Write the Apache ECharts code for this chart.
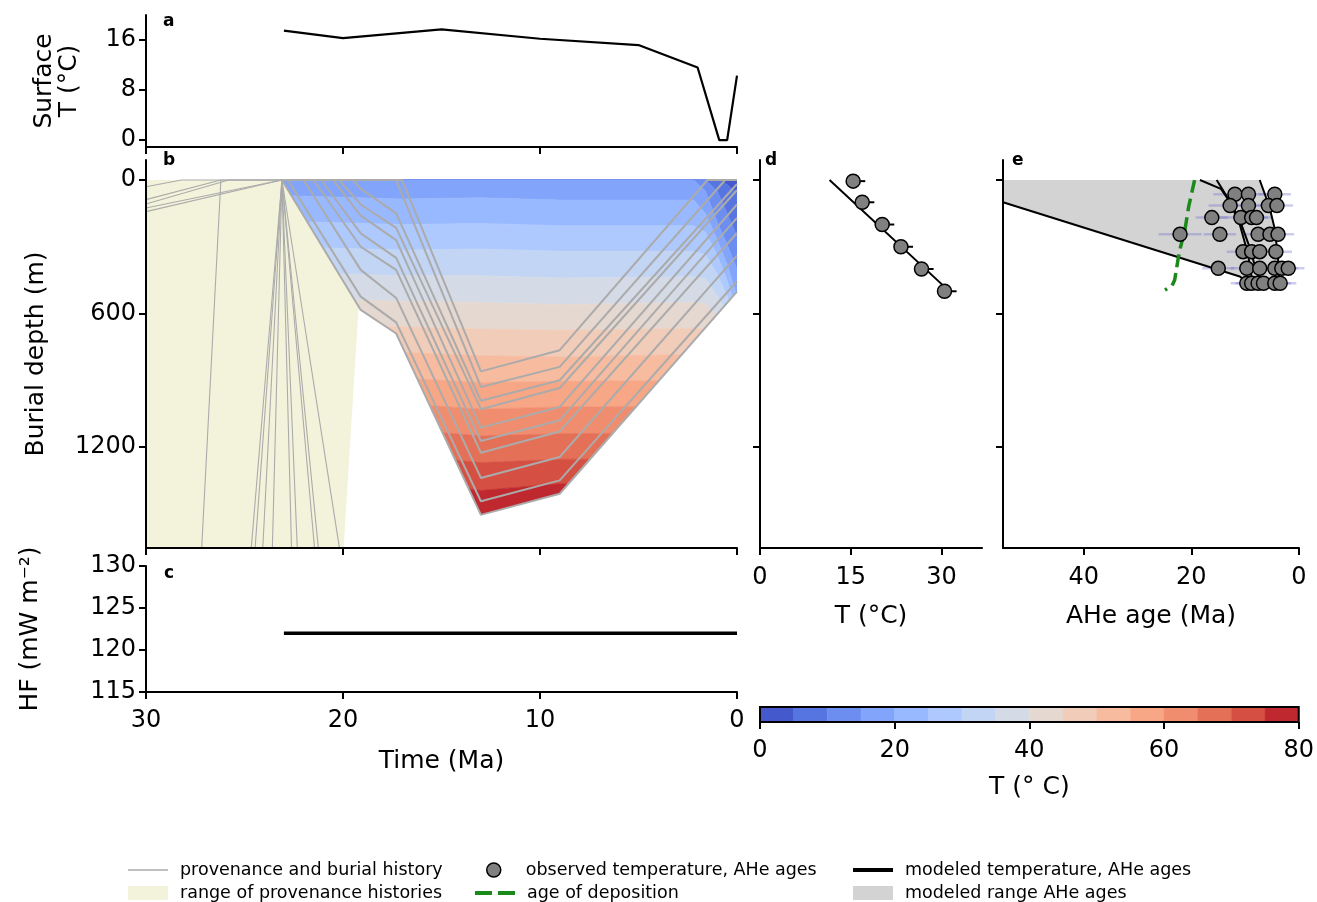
<!DOCTYPE html>
<html lang="en">
<head>
<meta charset="UTF-8">
<title>burial history</title>
<script src="https://cdn.jsdelivr.net/npm/echarts@6.0.0/dist/echarts.min.js"></script>
<style>
    *{margin:0;padding:0}
    html,body{width:100%;height:100%;overflow:hidden;background:#fff}
    #chart{width:1317px;height:902px}
</style>
</head>
<body>
<div id="chart"></div>
<script>
// panel a: surface temperature
const surfTime = [23, 20, 15, 10, 5, 2, 0.9, 0.5, 0];
const surfTemp = [17.5, 16.3, 17.7, 16.2, 15.2, 11.6, 0, 0, 10.3];

// panel c: heat flow
const hfTime = [23, 0];
const hfValue = [122, 122];

// panel b: burial histories of the horizons [time Ma, depth m]
const burialLines = [
    [[23.1,0],[19.1,584],[17.3,690],[13,1505],[9,1410],[0,502]],
    [[23.1,0],[22.8,0],[19.1,524],[17.3,640],[13,1444],[9,1350],[0,455]],
    [[23.1,0],[22.0,0],[19.1,404],[17.3,530],[13,1339],[9,1245],[0,340]],
    [[23.1,0],[21.5,0],[19.1,300],[17.3,404],[13,1226],[9,1130],[0,238]],
    [[23.1,0],[21.1,0],[19.1,240],[17.3,350],[13,1173],[9,1080],[0,170]],
    [[23.1,0],[20.5,0],[19.1,160],[17.3,270],[13,1113],[9,1020],[0,110]],
    [[23.1,0],[20.2,0],[19.1,110],[17.3,215],[13,1030],[9,935],[0,45]],
    [[23.1,0],[19.5,0],[19.1,40],[17.3,150],[13,992],[9,900],[0,18]],
    [[23.1,0],[17.3,0],[13,930],[9,840],[0.6,0],[0,0]],
    [[23.1,0],[17.0,0],[13,860],[9,765],[1.5,0],[0,0]]
];
// provenance histories
const provLines = [
    [[30,142],[23.1,0]],
    [[30,126],[23.1,0]],
    [[30,108],[25.8,0],[23.1,0]],
    [[30,88],[26.2,0],[23.1,0]],
    [[30,30],[28.2,0],[23.1,0]],
    [[27.2,1700],[26.2,0]],
    [[24.7,1700],[23.1,0]],
    [[24.5,1700],[23.1,0]],
    [[24.1,1700],[23.1,0]],
    [[23.6,1700],[23.1,0]],
    [[22.6,1700],[23.1,0]],
    [[22.3,1700],[23.1,0]],
    [[21.4,1700],[23.1,0]],
    [[21.2,1700],[23.1,0]],
    [[20.1,1700],[23.1,0]]
];
const provRange = [[30,0],[23.1,0],[19.2,565],[20.0,1700],[30,1700]];

// isotherm depths (m) at these times, for 5, 10, ... 80 °C
const isoTimes = [23.1, 17, 13, 9, 2.2, 1.6, 1.0, 0.5, 0];
const isotherms = [
    [0,0,0,0,0,0,0,20,60],
    [0,0,0,0,0,0,50,150,250],
    [0,0,0,0,0,50,190,290,400],
    [70,85,80,90,90,150,270,380,520],
    [185,200,195,205,205,235,340,450,600],
    [300,315,310,320,320,335,425,520,680],
    [415,430,430,440,435,445,520,600,760],
    [530,545,550,560,550,555,620,690,840],
    [645,660,670,675,667,670,720,780,920],
    [760,775,790,795,784,790,820,870,1000],
    [875,890,910,905,901,905,930,960,1080],
    [990,1005,1030,1020,1018,1020,1040,1060,1160],
    [1105,1120,1150,1140,1135,1135,1150,1160,1240],
    [1220,1235,1270,1255,1252,1250,1260,1260,1320],
    [1335,1350,1395,1365,1369,1365,1370,1360,1400],
    [1800,1800,1800,1800,1800,1800,1800,1800,1800]
];
const bandLevels = [0,5,10,15,20,25,30,35,40,45,50,55,60,65,70,75,80];
const bandColors = ['#445acc','#5775e1','#6c8ef1','#82a5fb','#98b9ff','#aec9fd','#c2d5f4','#d5dbe6',
    '#e5d8d1','#f1ccb8','#f7bb9f','#f7a686','#f18d6f','#e57058','#d55042','#c0282f'];

// panel d: observed and modeled temperature
const dTemp = [15.4, 16.9, 20.2, 23.3, 26.7, 30.5];
const dTempHi = [17.4, 18.9, 22.2, 25.3, 28.7, 32.5];
const dDepth = [5, 100, 200, 300, 400, 500];
const dModel = [[11.5,0],[31.5,505]];

// panel e: AHe ages
const eAge = [11.9,9.4,4.5, 12.8,9.4,5.7,4.1, 16.2,10.8,8.8,7.9, 22.1,14.7,7.6,5.4,3.9,
    10.4,8.8,7.3,4.3, 15.0,9.7,7.3,4.5,3.2,2.0, 9.7,8.8,7.6,6.6,4.5,3.5];
const eDepth = [64,64,64, 115,115,115,115, 169,169,169,169, 244,244,244,244,244,
    322,322,322,322, 397,397,397,397,397,397, 464,464,464,464,464,464];
const eErr = [4,4,3, 4,4,3,3, 3,4,3,3, 4,3,3,3,3, 3,3,3,3, 3,3,3,3,3,3, 3,3,3,3,3,3];
const eModels = [
    [[55,100],[11,434],[8.5,480]],
    [[18.4,0],[14.5,40],[12.8,100],[11,200],[9.5,330],[8.6,470]],
    [[15.3,0],[13,90],[11,180],[9.5,280],[8,400],[7,480]],
    [[7.3,0],[5.5,120],[4.5,220],[3.9,350],[3.6,480]]
];
const eRange = [[55,0],[7.3,0],[5.5,120],[4.5,220],[3.9,350],[3.6,480],[8.5,480],[11,434],[55,100]];
const depositAge = [[19.4,0],[20.5,120],[21.2,225],[22.0,300],[22.5,360],[23.1,449],[23.6,475],[24.9,494]];

const FONT = 'DejaVu Sans';
const black = '#000';

function polyItem(points, fill) {
    return function (params, api) {
        return {type: 'polygon', shape: {points: points.map(p => api.coord(p))},
            style: {fill: fill}};
    };
}
function bandItem(params, api) {
    const k = api.value(0);
    const upper = k === 0 ? isoTimes.map(() => 0) : isotherms[k - 1];
    const lower = isotherms[k];
    const pts = [];
    isoTimes.forEach((t, i) => pts.push(api.coord([t, upper[i]])));
    for (let i = isoTimes.length - 1; i >= 0; i--) pts.push(api.coord([isoTimes[i], lower[i]]));
    return {type: 'polygon', shape: {points: pts},
        style: {fill: bandColors[k], stroke: bandColors[k], lineWidth: 0.6}};
}
function errBar(color, width) {
    return function (params, api) {
        const p0 = api.coord([api.value(0), api.value(2)]);
        const p1 = api.coord([api.value(1), api.value(2)]);
        return {type: 'line', shape: {x1: p0[0], y1: p0[1], x2: p1[0], y2: p1[1]},
            style: {stroke: color, lineWidth: width}};
    };
}

const labelStyle = {color: black, fontSize: 24, fontFamily: FONT, formatter: v => String(v)};
const nameStyle = {color: black, fontSize: 25, fontFamily: FONT};
const lineSt = {onZero: false, lineStyle: {color: black, width: 2}};
const tickSt = {length: 7, lineStyle: {color: black, width: 2}};

function timeAxis(idx, showLabel) {
    return {
        type: 'value', gridIndex: idx, min: 0, max: 30, interval: 10, inverse: true, z: 10,
        position: 'bottom', axisLine: lineSt, axisTick: tickSt, splitLine: {show: false},
        axisLabel: Object.assign({show: showLabel, margin: 17}, labelStyle)
    };
}
function depthAxis(idx, name) {
    return {
        type: 'value', gridIndex: idx, min: -90, max: 1654, inverse: true, z: 10, position: 'left',
        name: name, nameLocation: 'middle', nameGap: 97, nameTextStyle: nameStyle,
        axisLine: Object.assign({show: true}, lineSt),
        axisTick: Object.assign({customValues: [0, 600, 1200]}, tickSt),
        axisLabel: Object.assign({show: !!name, margin: 10, customValues: [0, 600, 1200]}, labelStyle),
        splitLine: {show: false}
    };
}

const series = [];

// a
series.push({type: 'line', name: 'surface', xAxisIndex: 0, yAxisIndex: 0, symbol: 'none',
    data: surfTime.map((t, i) => [t, surfTemp[i]]), lineStyle: {color: black, width: 2.2}});

// b
series.push({type: 'custom', name: 'temperature', xAxisIndex: 1, yAxisIndex: 1, clip: true, z: 1,
    renderItem: bandItem, data: bandColors.map((c, i) => [i, 0]), silent: true});
series.push({type: 'custom', name: 'mask', xAxisIndex: 1, yAxisIndex: 1, clip: true, z: 2,
    renderItem: polyItem(burialLines[0].concat([[0, 2000], [23.1, 2000]]), '#fff'),
    data: [[0, 0]], silent: true});
series.push({type: 'custom', name: 'range of provenance histories', xAxisIndex: 1, yAxisIndex: 1,
    clip: true, z: 3, itemStyle: {color: '#f3f3dc'},
    renderItem: polyItem(provRange, '#f3f3dc'), data: [[25, 500]], silent: true});
provLines.forEach(l => series.push({type: 'line', name: 'provenance and burial history',
    xAxisIndex: 1, yAxisIndex: 1, symbol: 'none', z: 4, data: l, itemStyle: {color: '#ababab'},
    lineStyle: {color: '#ababab', width: 1.1}}));
burialLines.forEach(l => series.push({type: 'line', name: 'provenance and burial history',
    xAxisIndex: 1, yAxisIndex: 1, symbol: 'none', z: 4, data: l, itemStyle: {color: '#ababab'},
    lineStyle: {color: '#ababab', width: 2}}));

// c
series.push({type: 'line', name: 'heat flow', xAxisIndex: 2, yAxisIndex: 2, symbol: 'none',
    data: hfTime.map((t, i) => [t, hfValue[i]]), lineStyle: {color: black, width: 3.5}});

// d
series.push({type: 'line', name: 'modeled temperature, AHe ages', xAxisIndex: 3, yAxisIndex: 3,
    symbol: 'none', data: dModel, itemStyle: {color: black}, lineStyle: {color: black, width: 2}, z: 3});
series.push({type: 'custom', name: 'dErr', xAxisIndex: 3, yAxisIndex: 3, z: 4,
    renderItem: errBar(black, 2), data: dTemp.map((t, i) => [t, dTempHi[i], dDepth[i]])});
series.push({type: 'scatter', name: 'observed temperature, AHe ages', xAxisIndex: 3, yAxisIndex: 3,
    symbolSize: 14, z: 5, data: dTemp.map((t, i) => [t, dDepth[i]]),
    itemStyle: {color: '#808080', borderColor: black, borderWidth: 1.5, opacity: 1}});

// e
series.push({type: 'custom', name: 'modeled range AHe ages', xAxisIndex: 4, yAxisIndex: 4, z: 1,
    clip: true, itemStyle: {color: '#d3d3d3'},
    renderItem: polyItem(eRange, '#d3d3d3'), data: [[20, 200]], silent: true});
series.push({type: 'custom', name: 'eErr', xAxisIndex: 4, yAxisIndex: 4, z: 2,
    renderItem: errBar('rgba(110,110,200,0.35)', 2.5),
    data: eAge.map((a, i) => [a + eErr[i], a - eErr[i], eDepth[i]])});
eModels.forEach(l => series.push({type: 'line', name: 'modeled temperature, AHe ages',
    xAxisIndex: 4, yAxisIndex: 4, symbol: 'none', z: 3, data: l, itemStyle: {color: black},
    lineStyle: {color: black, width: 2}}));
series.push({type: 'line', name: 'age of deposition', xAxisIndex: 4, yAxisIndex: 4, symbol: 'none',
    z: 4, data: depositAge, itemStyle: {color: '#1a8a1a'},
    lineStyle: {color: '#1a8a1a', width: 3.5, type: [13, 6]}});
series.push({type: 'scatter', name: 'observed temperature, AHe ages', xAxisIndex: 4, yAxisIndex: 4,
    symbolSize: 14, z: 5, data: eAge.map((a, i) => [a, eDepth[i]]),
    itemStyle: {color: '#808080', borderColor: black, borderWidth: 1.5, opacity: 1}});

// colorbar
series.push({type: 'custom', name: 'colorbar', xAxisIndex: 5, yAxisIndex: 5, z: 2,
    renderItem: function (params, api) {
        const p0 = api.coord([api.value(0), 1]);
        const p1 = api.coord([api.value(1), 0]);
        const c = bandColors[params.dataIndex];
        return {type: 'rect', shape: {x: p0[0], y: p0[1], width: p1[0] - p0[0], height: p1[1] - p0[1]},
            style: {fill: c, stroke: c, lineWidth: 0.5}};
    },
    data: bandColors.map((c, i) => [bandLevels[i], bandLevels[i + 1]]), silent: true});
series.push({type: 'custom', name: 'colorbarFrame', xAxisIndex: 5, yAxisIndex: 5, z: 3,
    renderItem: function (params, api) {
        const p0 = api.coord([0, 1]);
        const p1 = api.coord([80, 0]);
        return {type: 'rect', shape: {x: p0[0], y: p0[1], width: p1[0] - p0[0], height: p1[1] - p0[1]},
            style: {fill: 'none', stroke: black, lineWidth: 2}};
    },
    data: [[0, 0]], silent: true});

// one legend box per entry, laid out in three columns of two rows
function legendEntry(left, top, item) {
    return {left: left, top: top, padding: 0, itemWidth: 40, itemHeight: 14, selectedMode: false,
        textStyle: {fontSize: 17.5, fontFamily: FONT, color: black, padding: [0, 0, 0, 7]},
        data: [item]};
}

const option = {
    animation: false,
    backgroundColor: '#fff',
    textStyle: {fontFamily: FONT},
    grid: [
        {left: 146, top: 15, width: 591, height: 132},
        {left: 146, top: 160, width: 591, height: 388},
        {left: 146, top: 566, width: 591, height: 126},
        {left: 760, top: 160, width: 222, height: 388},
        {left: 1003, top: 160, width: 296, height: 388},
        {left: 760, top: 707, width: 539, height: 15}
    ],
    xAxis: [
        timeAxis(0, false),
        timeAxis(1, false),
        Object.assign(timeAxis(2, true), {name: 'Time (Ma)', nameLocation: 'middle', nameGap: 57,
            nameTextStyle: nameStyle}),
        {type: 'value', gridIndex: 3, min: 0, max: 36.7, z: 10, position: 'bottom', name: 'T (°C)',
            nameLocation: 'middle', nameGap: 56, nameTextStyle: nameStyle, axisLine: lineSt,
            axisTick: Object.assign({customValues: [0, 15, 30]}, tickSt),
            axisLabel: Object.assign({margin: 18, customValues: [0, 15, 30]}, labelStyle),
            splitLine: {show: false}},
        {type: 'value', gridIndex: 4, min: 0, max: 55, inverse: true, z: 10, position: 'bottom',
            name: 'AHe age (Ma)', nameLocation: 'middle', nameGap: 56, nameTextStyle: nameStyle,
            axisLine: lineSt,
            axisTick: Object.assign({customValues: [0, 20, 40]}, tickSt),
            axisLabel: Object.assign({margin: 18, customValues: [0, 20, 40]}, labelStyle),
            splitLine: {show: false}},
        {type: 'value', gridIndex: 5, min: 0, max: 80, z: 10, position: 'bottom', name: 'T (° C)',
            nameLocation: 'middle', nameGap: 53, nameTextStyle: nameStyle, axisLine: {show: false},
            axisTick: Object.assign({customValues: [0, 20, 40, 60, 80]}, tickSt),
            axisLabel: Object.assign({margin: 17, customValues: [0, 20, 40, 60, 80]}, labelStyle),
            splitLine: {show: false}}
    ],
    yAxis: [
        {type: 'value', gridIndex: 0, min: -1.1, max: 20, z: 10, position: 'left', name: 'Surface\nT (°C)',
            nameLocation: 'middle', nameGap: 64, nameTextStyle: Object.assign({lineHeight: 25}, nameStyle),
            axisLine: Object.assign({show: true}, lineSt),
            axisTick: Object.assign({customValues: [0, 8, 16]}, tickSt),
            axisLabel: Object.assign({margin: 10, customValues: [0, 8, 16]}, labelStyle),
            splitLine: {show: false}},
        depthAxis(1, 'Burial depth (m)'),
        {type: 'value', gridIndex: 2, min: 115, max: 130, interval: 5, z: 10, position: 'left',
            name: 'HF (mW m⁻²)', nameLocation: 'middle', nameGap: 103, nameTextStyle: nameStyle,
            axisLine: Object.assign({show: true}, lineSt), axisTick: tickSt,
            axisLabel: Object.assign({margin: 10}, labelStyle), splitLine: {show: false}},
        depthAxis(3, ''),
        depthAxis(4, ''),
        {type: 'value', gridIndex: 5, min: 0, max: 1, show: false}
    ],
    legend: [
        legendEntry(128, 861, {name: 'provenance and burial history', icon: 'path://M0,0h40v1.5h-40z',
            itemStyle: {color: '#ababab'}}),
        legendEntry(128, 884, {name: 'range of provenance histories', icon: 'rect',
            itemStyle: {color: '#f3f3dc'}}),
        legendEntry(486, 861, {name: 'observed temperature, AHe ages', icon: 'circle',
            itemStyle: {color: '#808080', borderColor: black, borderWidth: 1.5}}),
        legendEntry(475, 884, {name: 'age of deposition', icon: 'path://M0,0h17v4h-17z M23,0h17v4h-17z',
            itemStyle: {color: '#1a8a1a'}}),
        legendEntry(853, 861, {name: 'modeled temperature, AHe ages', icon: 'path://M0,0h40v4h-40z',
            itemStyle: {color: black}}),
        legendEntry(853, 884, {name: 'modeled range AHe ages', icon: 'rect',
            itemStyle: {color: '#d3d3d3'}})
    ],
    graphic: [
        {type: 'text', left: 163, top: 13, style: {text: 'a', font: 'bold 17px "DejaVu Sans"', fill: black}},
        {type: 'text', left: 163, top: 152, style: {text: 'b', font: 'bold 17px "DejaVu Sans"', fill: black}},
        {type: 'text', left: 164, top: 565, style: {text: 'c', font: 'bold 17px "DejaVu Sans"', fill: black}},
        {type: 'text', left: 765, top: 152, style: {text: 'd', font: 'bold 17px "DejaVu Sans"', fill: black}},
        {type: 'text', left: 1012, top: 152, style: {text: 'e', font: 'bold 17px "DejaVu Sans"', fill: black}}
    ],
    series: series
};

const myChart = echarts.init(document.getElementById('chart'));
myChart.setOption(option);
</script>
</body>
</html>
